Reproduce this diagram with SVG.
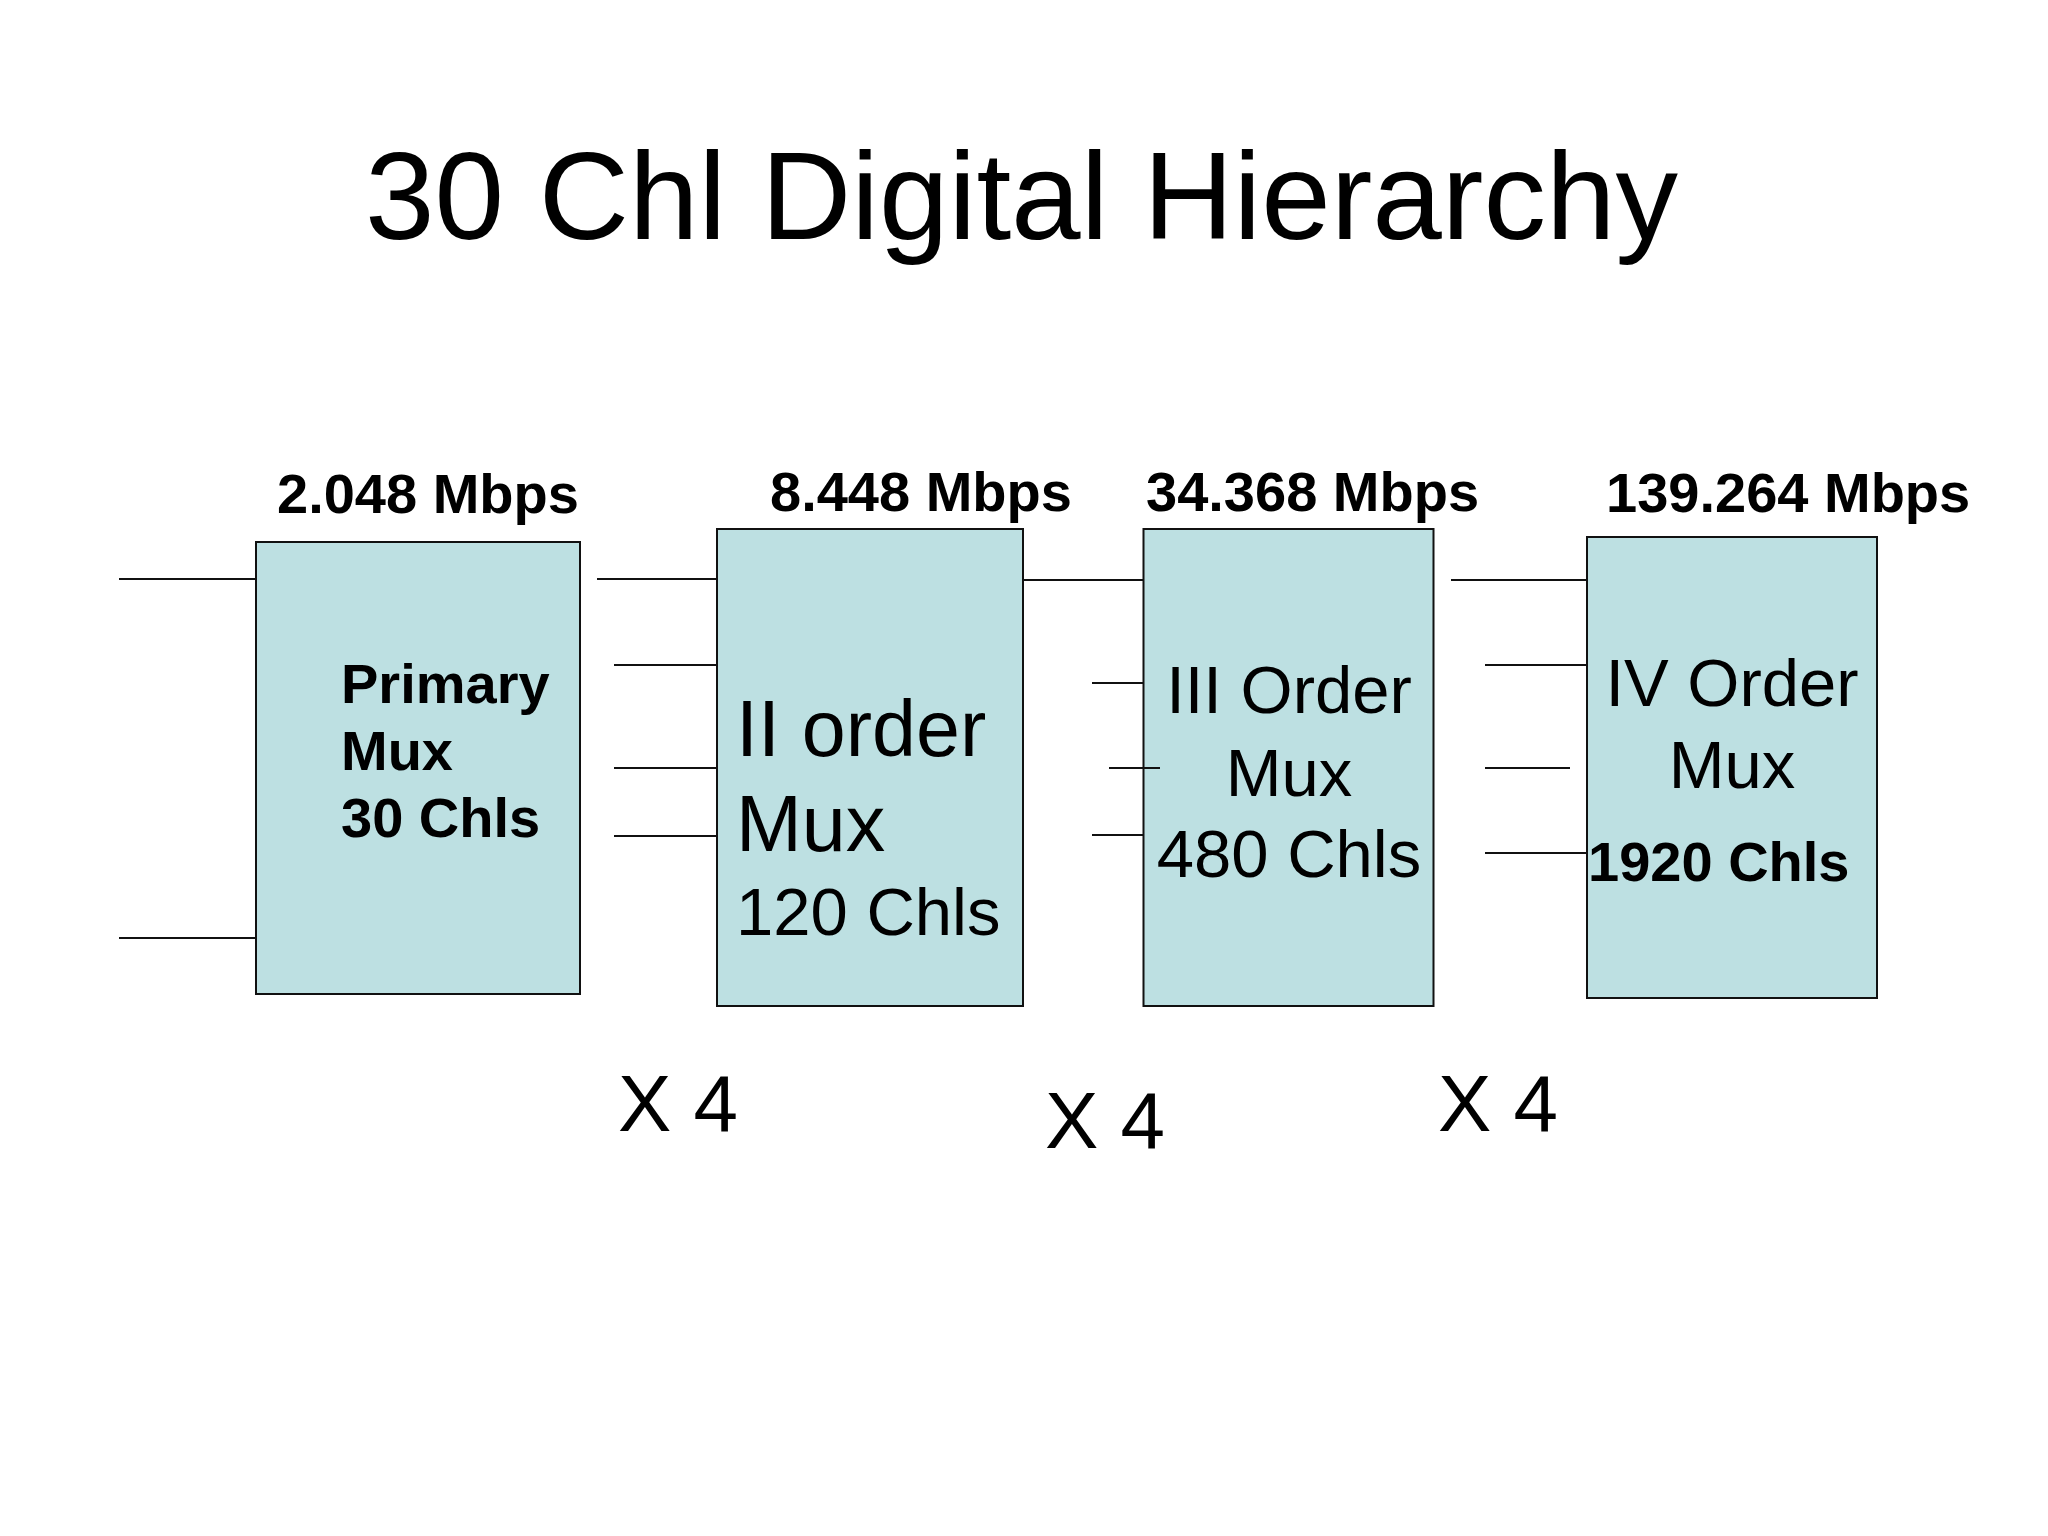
<svg xmlns="http://www.w3.org/2000/svg" width="2048" height="1536" viewBox="0 0 2048 1536">
<style>
.box{fill:#bde0e2;stroke:#111;stroke-width:2}
.ln{stroke:#111;stroke-width:2;fill:none}
.t{font-family:"Liberation Sans",Arial,sans-serif;fill:#000}
.b{font-weight:bold}
.rate{font-size:56px;font-weight:bold}
.big{font-size:79px}
.mid{font-size:67px}
.x4{font-size:80px}
</style>
<rect width="2048" height="1536" fill="#fff"/>
<text class="t" x="365" y="239" font-size="125">30 Chl Digital Hierarchy</text>
<g id="connectors">
<line class="ln" x1="119" y1="579" x2="256" y2="579"/>
<line class="ln" x1="119" y1="938" x2="256" y2="938"/>
<line class="ln" x1="597" y1="579" x2="717" y2="579"/>
<line class="ln" x1="614" y1="665" x2="717" y2="665"/>
<line class="ln" x1="614" y1="768" x2="717" y2="768"/>
<line class="ln" x1="614" y1="836" x2="717" y2="836"/>
<line class="ln" x1="1023" y1="580" x2="1143" y2="580"/>
<line class="ln" x1="1092" y1="683" x2="1143" y2="683"/>
<line class="ln" x1="1092" y1="835" x2="1143" y2="835"/>
<line class="ln" x1="1451" y1="580" x2="1587" y2="580"/>
<line class="ln" x1="1485" y1="665" x2="1587" y2="665"/>
<line class="ln" x1="1485" y1="768" x2="1570" y2="768"/>
<line class="ln" x1="1485" y1="853" x2="1587" y2="853"/>
</g>
<g id="primary">
<text class="t rate" x="277" y="513">2.048 Mbps</text>
<rect class="box" x="256" y="542" width="324" height="452"/>
<text class="t b" font-size="56" x="341" y="703">Primary</text>
<text class="t b" font-size="56" x="341" y="770">Mux</text>
<text class="t b" font-size="56" x="341" y="837">30 Chls</text>
</g>
<g id="second">
<text class="t rate" x="770" y="511">8.448 Mbps</text>
<rect class="box" x="717" y="529" width="306" height="477"/>
<text class="t big" x="736" y="756">II order</text>
<text class="t big" x="736" y="851">Mux</text>
<text class="t mid" x="736" y="935">120 Chls</text>
</g>
<g id="third">
<text class="t rate" x="1146" y="511">34.368 Mbps</text>
<rect class="box" x="1143.5" y="529" width="290" height="477"/>
<text class="t mid" x="1289" y="713" text-anchor="middle">III Order</text>
<text class="t mid" x="1289" y="796" text-anchor="middle">Mux</text>
<text class="t mid" x="1289" y="877" text-anchor="middle">480 Chls</text>
</g>
<line class="ln" x1="1109" y1="768" x2="1160" y2="768"/>
<g id="fourth">
<text class="t rate" x="1606" y="512">139.264 Mbps</text>
<rect class="box" x="1587" y="537" width="290" height="461"/>
<text class="t mid" x="1732" y="706" text-anchor="middle">IV Order</text>
<text class="t mid" x="1732" y="788" text-anchor="middle">Mux</text>
<text class="t b" font-size="56" x="1588" y="881">1920 Chls</text>
</g>
<g id="multipliers">
<text class="t x4" x="618" y="1131">X 4</text>
<text class="t x4" x="1045" y="1148">X 4</text>
<text class="t x4" x="1438" y="1131">X 4</text>
</g>
</svg>
